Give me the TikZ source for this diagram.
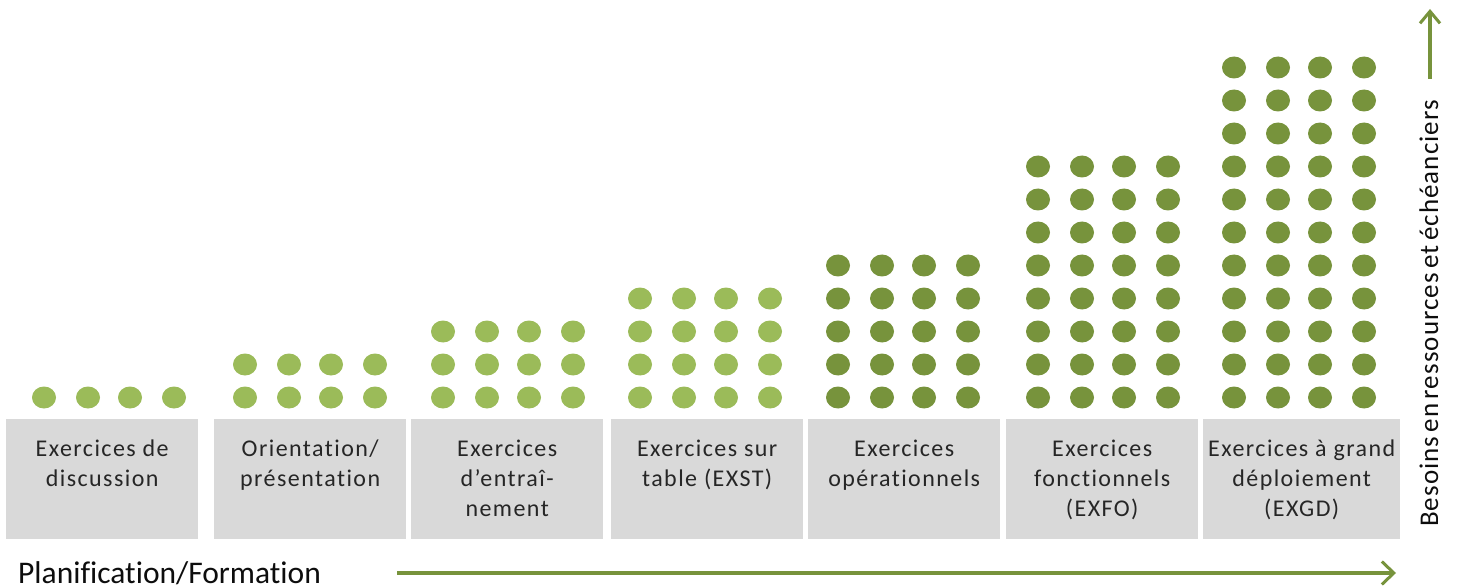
\documentclass[tikz,border=0pt]{standalone}
\usepackage{fontspec}
\setmainfont{Carlito}[Ligatures=NoCommon]
\newfontfamily\stagefont{Carlito}[LetterSpace=6,Ligatures=NoCommon]
\newfontfamily\vaxisfont{Carlito}[LetterSpace=4,WordSpace=0.6,Ligatures=NoCommon]
\usetikzlibrary{arrows.meta}
\definecolor{lightdot}{HTML}{9BBB59}
\definecolor{darkdot}{HTML}{77933C}
\definecolor{boxgray}{HTML}{D9D9D9}
\definecolor{boxtext}{HTML}{262626}
\definecolor{axistext}{HTML}{0D0D0D}
\begin{document}
\begin{tikzpicture}[x=1pt,y=-1pt,
  stagebox/.style={fill=boxgray, draw=none, rectangle, anchor=north west,
    minimum width=192pt, minimum height=120pt, inner sep=0pt},
  stagetext/.style={anchor=base, align=center, text=boxtext, inner sep=0pt,
    font=\stagefont\fontsize{24}{30}\selectfont},
  axisline/.style={draw=darkdot, line width=4pt,
    -{Straight Barb[length=12pt, width=23pt, line width=3pt]}},
  vaxisline/.style={draw=darkdot, line width=3.5pt,
    -{Straight Barb[length=12pt, width=20pt, line width=3pt]}},
  axislabel/.style={text=axistext, inner sep=0pt}]
\useasboundingbox (0,0) rectangle (1457,588);

% stage boxes along the bottom
\node[stagebox] (s1) at (6,419) {};
\node[stagebox] (s2) at (214,419) {};
\node[stagebox] (s3) at (411,419) {};
\node[stagebox] (s4) at (611,419) {};
\node[stagebox] (s5) at (808,419) {};
\node[stagebox] (s6) at (1006,419) {};
\node[stagebox, minimum width=197pt] (s7) at (1203,419) {};

% stage labels (anchored on the baseline of their last line)
\node[stagetext] (t1) at ([yshift=-67pt]s1.north) {Exercices de\\discussion};
\node[stagetext] (t2) at ([yshift=-67pt]s2.north) {Orientation/\\présentation};
\node[stagetext] (t3) at ([yshift=-97pt]s3.north) {Exercices\\d’entraî-\\nement};
\node[stagetext] (t4) at ([yshift=-67pt]s4.north) {Exercices sur\\table (EXST)};
\node[stagetext] (t5) at ([yshift=-67pt]s5.north) {Exercices\\opérationnels};
\node[stagetext] (t6) at ([yshift=-97pt]s6.north) {Exercices\\fonctionnels\\(EXFO)};
\node[stagetext] (t7) at ([yshift=-97pt]s7.north) {Exercices à grand\\déploiement\\(EXGD)};

% dot columns: centre x / number of rows / colour
\foreach \cx/\rows/\col in {109/1/lightdot, 310/2/lightdot, 508/3/lightdot,
    705/4/lightdot, 903/5/darkdot, 1103/8/darkdot, 1299/11/darkdot} {
  \foreach \r in {1,...,\rows} {
    \foreach \dx in {-65,-21,21,65} {
      \fill[\col] (\cx+\dx, {397.5-(\r-1)*33.0}) ellipse [x radius=12pt, y radius=11pt];
    }
  }
}

% horizontal axis
\node[axislabel, anchor=base west, font=\fontsize{31.5}{36}\selectfont] (hlab) at (18,583) {Planification/Formation};
\coordinate (hstart) at (397,573);
\coordinate (hend) at (1396,573);
\draw[axisline] (hstart) -- (hend);

% vertical axis
\node[axislabel, rotate=90, anchor=base west, font=\vaxisfont\fontsize{27}{30}\selectfont] (vlab) at (1438,527) {Besoins en ressources et échéanciers};
\coordinate (vstart) at (1430,79);
\coordinate (vend) at (1430,9);
\draw[vaxisline] (vstart) -- (vend);
\end{tikzpicture}
\end{document}
